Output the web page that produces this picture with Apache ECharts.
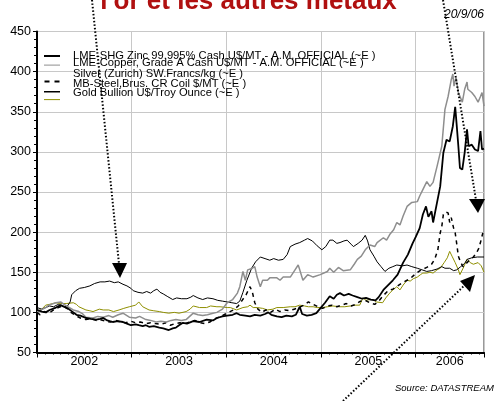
<!DOCTYPE html>
<html>
<head>
<meta charset="utf-8">
<script src="https://cdn.jsdelivr.net/npm/echarts@6/dist/echarts.min.js"></script>
<style>
  html, body { margin: 0; padding: 0; background: #fff; }
  #main { width: 497px; height: 401px; }
</style>
</head>
<body>
<div id="main"></div>
<script>
// x = months since Jan 2002, y = index (base 100)
const seriesNames = [
  'LME-SHG Zinc 99.995% Cash U$/MT - A.M. OFFICIAL (~E )',
  'LME-Copper, Grade A Cash U$/MT - A.M. OFFICIAL (~E )',
  'Silver (Zurich) SW.Francs/kg (~E )',
  'MB-Steel,Brus. CR Coil $/MT (~E )',
  'Gold Bullion U$/Troy Ounce (~E )'
]
const yearLabels = ['2002', '2003', '2004', '2005', '2006']

const zincData = [
  [0,103],[0.6,101],[1.1,100],[1.6,103],[2.4,106],[3.0,109],[3.4,107],[3.9,105],[4.1,103],[4.6,100],
  [5.0,97],[5.5,96],[6.2,93],[6.8,92],[7.5,91],[8.0,92],[8.4,93],[8.9,90],[9.6,88],[10.2,89],
  [10.9,88],[11.4,86],[11.9,84],[12.5,85],[12.9,84],[13.4,83],[13.8,84],[14.2,82],[14.8,83],[15.5,81],
  [16.0,80],[16.7,78],[17.2,80],[17.6,81],[18.0,84],[18.5,87],[19.0,86],[19.8,89],[20.6,88],[21.5,91],
  [22.3,90],[22.8,93],[23.5,95],[24.1,96],[24.8,97],[25.3,99],[25.7,97],[26.4,96],[27.0,95],[27.6,97],
  [28.3,96],[28.9,98],[29.3,100],[29.7,97],[30.4,95],[31.0,94],[31.6,96],[32.3,95],[32.8,97],[33.3,107],
  [33.6,98],[34.2,96],[34.8,97],[35.4,99],[35.9,105],[36.5,112],[37.1,120],[37.6,117],[38.0,122],[38.4,124],
  [38.9,121],[39.5,123],[40.0,121],[40.6,119],[41.2,117],[41.7,118],[42.3,116],[42.9,115],[43.3,119],[43.9,128],
  [44.5,134],[45.1,140],[45.7,147],[46.4,162],[47.0,172],[47.6,186],[48.0,194],[48.5,205],[48.9,222],[49.3,232],
  [49.6,219],[50.0,226],[50.2,212],[50.7,237],[51.1,257],[51.5,299],[51.9,315],[52.3,313],[52.7,332],[53.0,356],
  [53.2,332],[53.4,307],[53.6,280],[53.9,278],[54.2,299],[54.5,328],[54.7,307],[55.1,309],[55.5,303],[55.9,301],
  [56.2,326],[56.4,303],[56.65,304]
]
const copperData = [
  [0,101],[0.5,103],[1.1,106],[1.5,109],[2.4,112],[3.0,113],[3.3,111],[3.9,107],[4.6,103],[5.3,101],
  [5.8,98],[6.2,94],[7.1,93],[7.7,95],[8.4,94],[9.1,96],[9.6,94],[10.3,97],[10.9,99],[11.4,96],
  [11.7,94],[12.5,93],[13.0,95],[13.8,91],[14.4,90],[15.1,88],[15.7,89],[16.4,88],[17.0,90],[17.6,91],
  [18.3,90],[18.9,91],[19.8,99],[20.4,97],[21.0,96],[21.6,97],[22.3,99],[22.8,100],[23.5,104],[24.1,112],
  [24.8,116],[25.4,124],[25.7,132],[26.1,151],[26.4,140],[26.7,153],[27.3,155],[27.6,157],[27.9,144],[28.3,132],
  [28.6,140],[29.2,140],[29.5,143],[30.4,143],[30.8,140],[31.2,144],[32.1,144],[32.7,153],[33.1,159],[33.3,153],
  [33.7,140],[34.3,147],[35.0,144],[35.9,147],[36.8,151],[37.1,155],[37.6,150],[38.2,156],[38.8,152],[39.7,153],
  [40.2,160],[40.6,166],[41.1,170],[41.6,178],[42.2,184],[42.8,182],[43.1,187],[43.9,193],[44.3,190],[44.7,197],
  [45.2,203],[45.6,212],[46.0,209],[46.4,220],[46.9,232],[47.5,237],[48.2,238],[48.5,245],[48.9,253],[49.4,263],
  [49.8,257],[50.2,262],[50.7,282],[51.3,307],[51.7,353],[52.1,369],[52.5,390],[52.7,397],[52.85,382],[53.1,393],
  [53.4,374],[53.9,362],[54.2,378],[54.5,387],[54.6,378],[55.1,374],[55.5,369],[55.9,362],[56.2,369],[56.4,374],
  [56.65,357]
]
const silverData = [
  [0,100],[0.4,97],[0.9,101],[1.5,99],[2.1,103],[2.7,106],[3.2,108],[3.8,105],[4.3,100],[4.9,96],
  [5.5,93],[6.2,91],[6.8,92],[7.5,90],[8.0,91],[8.7,89],[9.3,88],[10.0,90],[10.6,88],[11.2,87],
  [11.9,89],[12.5,87],[13.1,88],[13.8,86],[14.4,87],[15.0,86],[15.7,85],[16.3,87],[16.9,84],[17.5,86],
  [18.1,87],[18.7,86],[19.4,88],[20.0,90],[20.7,87],[21.3,86],[21.9,88],[22.5,92],[23.1,94],[23.7,97],
  [24.3,100],[24.9,103],[25.5,108],[26.0,115],[26.5,122],[27.0,132],[27.3,125],[27.6,112],[28.0,104],[28.5,100],
  [29.0,103],[29.6,100],[30.2,104],[30.8,101],[31.4,103],[32.0,102],[32.6,104],[33.2,106],[33.8,109],[34.4,113],
  [35.0,110],[35.6,107],[36.2,105],[36.8,108],[37.4,109],[38.0,107],[38.6,109],[39.2,111],[39.8,108],[40.4,110],
  [41.0,114],[41.6,115],[42.2,112],[42.8,110],[43.3,114],[43.9,121],[44.5,127],[45.1,129],[45.7,133],[46.3,137],
  [46.9,140],[47.5,144],[48.1,149],[48.7,153],[49.4,156],[50.0,160],[50.4,166],[50.8,178],[51.1,199],[51.3,207],
  [51.5,222],[51.8,225],[52.1,224],[52.3,212],[52.5,218],[52.8,205],[53.0,199],[53.2,185],[53.4,170],[53.7,162],
  [54.0,157],[54.4,161],[54.9,166],[55.3,169],[55.7,174],[56.0,180],[56.2,187],[56.5,199],[56.65,195]
]
const steelData = [
  [0,106],[0.6,104],[1.1,106],[1.6,108],[2.1,107],[2.7,110],[3.2,108],[3.8,107],[4.2,113],[4.4,122],
  [4.9,127],[5.4,130],[6.0,131],[6.7,133],[7.3,136],[8.0,138],[8.6,138],[9.2,139],[9.8,137],[10.3,138],
  [10.9,135],[11.4,133],[11.9,130],[12.2,127],[12.8,125],[13.4,124],[13.9,126],[14.4,124],[14.8,127],[15.2,129],
  [15.6,125],[16.0,123],[16.5,120],[17.2,116],[17.7,118],[18.3,117],[19.0,117],[19.5,119],[19.8,121],[20.4,118],
  [21.0,116],[21.6,118],[22.3,117],[22.9,115],[23.5,114],[24.1,113],[24.7,112],[25.3,111],[25.7,114],[26.1,125],
  [26.6,140],[27.2,155],[27.7,163],[28.3,169],[28.9,167],[29.5,165],[30.0,167],[30.6,165],[31.2,166],[31.7,172],
  [32.1,182],[32.7,185],[33.3,187],[33.9,190],[34.3,192],[34.9,189],[35.5,183],[36.1,178],[36.6,182],[37.1,190],
  [37.5,190],[38.0,186],[38.4,187],[38.9,189],[39.3,190],[39.8,185],[40.1,182],[40.7,186],[41.2,190],[41.6,196],
  [41.9,189],[42.2,178],[42.7,170],[43.1,163],[43.6,157],[44.1,151],[44.6,155],[45.1,157],[45.6,159],[46.3,158],
  [46.9,159],[47.5,157],[48.2,155],[48.8,153],[49.4,151],[50.0,152],[50.7,154],[51.3,157],[51.7,155],[52.3,155],
  [52.8,152],[53.2,153],[53.7,157],[54.2,161],[54.5,166],[55.1,168],[55.8,169],[56.65,169]
]
const goldData = [
  [0,101],[0.6,104],[1.1,109],[1.6,110],[2.4,112],[3.0,111],[3.7,111],[4.6,112],[5.0,110],[5.3,107],
  [6.2,103],[6.7,102],[7.1,101],[7.9,104],[8.4,103],[9.1,103],[9.7,101],[10.4,103],[11.0,105],[11.7,107],
  [12.5,109],[12.9,113],[13.4,107],[14.2,103],[14.8,102],[15.5,101],[16.0,100],[16.7,99],[17.4,100],[18.0,99],
  [18.9,101],[19.4,104],[19.8,108],[20.6,106],[21.5,106],[22.0,108],[22.8,107],[23.2,107],[24.1,106],[24.5,106],
  [25.3,103],[26.1,106],[26.7,107],[27.0,109],[27.4,106],[27.9,106],[28.6,105],[29.2,103],[29.9,104],[30.4,106],
  [31.2,106],[32.1,107],[32.7,107],[33.3,109],[33.9,108],[34.4,107],[35.0,107],[35.5,106],[36.2,106],[36.8,107],
  [37.5,108],[38.3,107],[39.0,107],[39.7,108],[40.3,109],[40.9,109],[41.3,118],[41.7,115],[42.2,116],[42.6,116],
  [43.0,113],[43.8,112],[44.2,118],[44.7,124],[45.1,128],[45.6,132],[46.0,128],[46.4,134],[46.9,140],[47.3,139],
  [47.7,142],[48.2,144],[48.6,147],[48.9,149],[49.4,149],[49.8,150],[50.2,149],[50.7,153],[51.1,155],[51.6,162],
  [52.0,168],[52.3,176],[52.6,170],[53.0,162],[53.4,153],[53.6,147],[54.0,155],[54.5,166],[54.9,162],[55.3,160],
  [55.9,162],[56.3,158],[56.65,150]
]

const font = 'Arial, "Liberation Sans", sans-serif'
const colors = ['#000', '#8e8e8e', '#000', '#000', '#8f8f00']

// line samples and texts of the legend sit on separate rows, like the original
const sampleTops = [55, 64.5, 80.5, 91, 99]
const textTops = [50, 57, 68.5, 78.5, 87]
const sampleIcons = [
  'path://M0 0H16V2H0Z',
  'path://M0 0H16V1H0Z',
  'path://M0 0H5V2H0Z M10 0H15V2H10Z',
  'path://M0 0H16V1.5H0Z',
  'path://M0 0H16V1H0Z'
]
const sampleHeights = [2, 1.2, 2, 1.5, 1.2]
const legends = []
seriesNames.forEach((name, i) => {
  legends.push({
    data: [name],
    left: 44,
    top: sampleTops[i],
    padding: 0,
    icon: sampleIcons[i],
    itemWidth: 16,
    itemHeight: sampleHeights[i],
    selectedMode: false,
    formatter: () => '',
    itemStyle: {color: colors[i], borderWidth: 0}
  })
  legends.push({
    data: [name],
    left: 44,
    top: textTops[i],
    padding: 0,
    icon: 'rect',
    itemWidth: 16,
    itemHeight: 2,
    selectedMode: false,
    itemStyle: {color: 'rgba(0,0,0,0)', borderWidth: 0},
    textStyle: {
      fontFamily: font,
      fontSize: 11.2,
      lineHeight: 11,
      color: '#000',
      padding: [0, 0, 0, 8]
    }
  })
})

function mkLine(name, data, color, width, type) {
  return {
    name: name,
    type: 'line',
    data: data,
    symbol: 'none',
    animation: false,
    lineStyle: {color: color, width: width, type: type || 'solid'},
    itemStyle: {color: color}
  }
}

function dotted(points) {
  return {
    type: 'polyline',
    z: 100,
    shape: {points: points},
    style: {stroke: '#000', lineWidth: 2, lineDash: [1.5, 2], fill: null}
  }
}
function head(points) {
  return {type: 'polygon', z: 100, shape: {points: points}, style: {fill: '#000'}}
}

let myChart = echarts.init(document.getElementById('main'))
let option = {
  animation: false,
  backgroundColor: '#fff',
  grid: {
    left: 37, right: 13, top: 31.5, bottom: 48.5,
    show: true, borderColor: '#333', borderWidth: 1
  },
  legend: legends,
  xAxis: {
    type: 'value',
    min: 0,
    max: 56.65,
    interval: 12,
    axisLine: {lineStyle: {color: '#000', width: 2}},
    axisTick: {show: true, length: 5, lineStyle: {color: '#000'}},
    minorTick: {show: true, splitNumber: 12, length: 2, lineStyle: {color: '#000'}},
    splitLine: {show: true, lineStyle: {color: '#c8c8c8', width: 1}},
    axisLabel: {
      customValues: [6, 18, 30, 42, 52.3],
      formatter: v => yearLabels[Math.round((v - 6) / 12)],
      fontFamily: font,
      fontSize: 12.5,
      color: '#000',
      margin: 3
    }
  },
  yAxis: {
    type: 'value',
    min: 50,
    max: 450,
    interval: 50,
    axisLine: {show: true, lineStyle: {color: '#000', width: 2}},
    axisTick: {show: true, length: 4, lineStyle: {color: '#000'}},
    minorTick: {show: true, splitNumber: 5, length: 3, lineStyle: {color: '#000'}},
    splitLine: {show: true, lineStyle: {color: '#c8c8c8', width: 1}},
    axisLabel: {
      fontFamily: font,
      fontSize: 12.5,
      color: '#000',
      margin: 6,
      padding: [0, 0, 6, 0]
    }
  },
  series: [
    mkLine(seriesNames[4], goldData, colors[4], 1),
    mkLine(seriesNames[3], steelData, colors[3], 1),
    mkLine(seriesNames[2], silverData, colors[2], 1.5, [4, 4]),
    mkLine(seriesNames[1], copperData, colors[1], 1.5),
    mkLine(seriesNames[0], zincData, colors[0], 1.8)
  ],
  graphic: [
    {
      type: 'text', left: 'center', top: -11,
      style: {text: "l'or et les autres métaux", font: 'bold 26px ' + font, fill: '#b01010'}
    },
    {
      type: 'text', right: 13, top: 9,
      style: {text: '20/9/06', font: 'italic 12px ' + font, fill: '#000'}
    },
    {
      type: 'text', left: 395, top: 383,
      style: {text: 'Source: DATASTREAM', font: 'italic 9.5px ' + font, fill: '#000'}
    },
    dotted([[92, 0], [119, 264]]),
    head([[112, 263], [127, 263], [120, 278]]),
    dotted([[443, 0], [476, 200]]),
    head([[469, 199], [485, 199], [478, 213]]),
    dotted([[343, 401], [466, 284]]),
    head([[475, 275], [460, 281], [470, 292]])
  ]
}
myChart.setOption(option)
</script>
</body>
</html>
